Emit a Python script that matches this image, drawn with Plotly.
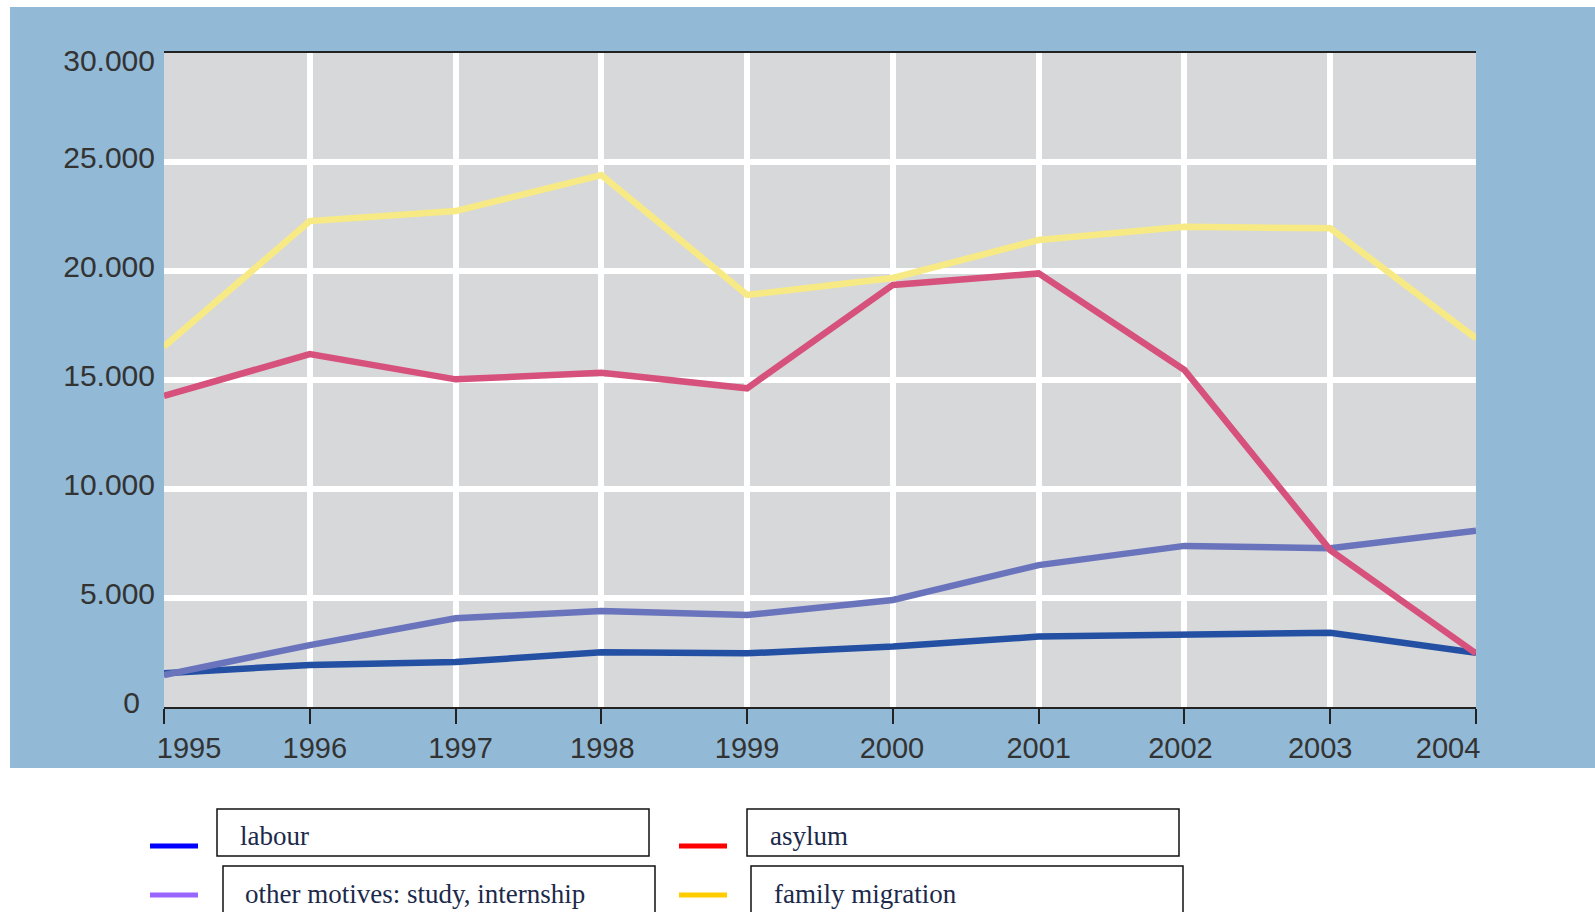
import plotly.graph_objects as go

W, H = 1595, 912

years = [1995, 1996, 1997, 1998, 1999, 2000, 2001, 2002, 2003, 2004]
labour = [1550, 1930, 2060, 2510, 2460, 2770, 3230, 3300, 3410, 2490]
other_motives = [1470, 2840, 4070, 4400, 4220, 4910, 6510, 7390, 7280, 8090]
asylum = [14270, 16190, 15030, 15330, 14620, 19360, 19890, 15460, 7200, 2460]
family = [16530, 22290, 22750, 24400, 18900, 19680, 21420, 22030, 21960, 16910]

y_ticks = [0, 5000, 10000, 15000, 20000, 25000, 30000]
y_tick_text = ["0\u2002", "5.000", "10.000", "15.000", "20.000", "25.000", "30.000"]
x_tick_text = [str(y) for y in years]

legend_names = ["labour", "asylum", "other motives: study, internship", "family migration"]
legend_colors = ["#0000ff", "#ff0000", "#9966ff", "#ffcc00"]

line_colors = {"labour": "#2450a4", "other": "#6a74bd", "asylum": "#d6527c", "family": "#f7ea85"}

# geometry (pixels)
PL, PR, PT, PB = 164, 1476, 53, 707


def px(x):
    return x / W


def py(y):
    return 1 - y / H


fig = go.Figure()
for name, vals, key in [("labour", labour, "labour"),
                        ("other motives", other_motives, "other"),
                        ("asylum", asylum, "asylum"),
                        ("family migration", family, "family")]:
    fig.add_trace(go.Scatter(x=years, y=vals, mode="lines", name=name,
                             line=dict(color=line_colors[key], width=6.5),
                             showlegend=False, hoverinfo="skip"))

# invisible trace to carry label axes
fig.add_trace(go.Scatter(x=[], y=[], xaxis="x2", yaxis="y2", showlegend=False, hoverinfo="skip"))

units_per_px_y = 30000 / (PB - PT)
units_per_px_x = 9 / (PR - PL)
y_label_vals = [v + 5 * units_per_px_y for v in y_ticks[:-1]] + [y_ticks[-1] - 7 * units_per_px_y]
x_shift = [25, 5, 5, 1, 0, -1, 0, -4, -10, -28]
x_label_vals = [yr + s * units_per_px_x for yr, s in zip(years, x_shift)]

x_font = dict(family="Liberation Sans, Arial, sans-serif", size=29, color="#333333")
y_font = dict(family="Liberation Sans, Arial, sans-serif", size=30, color="#333333")

fig.update_layout(
    width=W, height=H,
    margin=dict(l=0, r=0, t=0, b=0, autoexpand=False),
    paper_bgcolor="white",
    plot_bgcolor="rgba(0,0,0,0)",
    xaxis=dict(domain=[px(PL), px(PR)], range=[1995, 2004], tickvals=years,
               showticklabels=False, showgrid=True, gridcolor="white", gridwidth=6,
               zeroline=False, showline=True, linecolor="#222222", linewidth=1.5, mirror=True,
               ticks="outside", ticklen=15, tickwidth=1.5, tickcolor="#222222", fixedrange=True),
    yaxis=dict(domain=[py(PB), py(PT)], range=[0, 30000], tickvals=y_ticks,
               showticklabels=False, showgrid=True, gridcolor="white", gridwidth=6,
               zeroline=False, showline=False, ticks="", fixedrange=True),
    xaxis2=dict(overlaying="x", anchor="y", side="bottom", range=[1995, 2004],
                tickmode="array", tickvals=x_label_vals, ticktext=x_tick_text,
                showgrid=False, zeroline=False, showline=False,
                ticks="outside", ticklen=15, tickcolor="rgba(0,0,0,0)",
                tickfont=x_font, fixedrange=True),
    yaxis2=dict(overlaying="y", anchor="x", side="left", range=[0, 30000],
                tickmode="array", tickvals=y_label_vals, ticktext=y_tick_text,
                showgrid=False, zeroline=False, showline=False,
                ticks="outside", ticklen=2, tickcolor="rgba(0,0,0,0)",
                tickfont=y_font, fixedrange=True),
)

shapes = [
    dict(type="rect", xref="paper", yref="paper", x0=px(10), x1=1, y0=py(768), y1=py(7),
         fillcolor="#92b9d5", line=dict(width=0), layer="below"),
    dict(type="rect", xref="x", yref="y", x0=years[0], x1=years[-1], y0=y_ticks[0], y1=y_ticks[-1],
         fillcolor="#d7d8da", line=dict(width=0), layer="below"),
]

# legend boxes and swatches
legend_layout = [
    # (line x0, x1, line y, box x0, x1, y0, y1, text x, text middle)
    (150, 198, 846, 217, 649, 809, 856, 238, 836),
    (679, 727, 846, 747, 1179, 809, 856, 768, 836),
    (150, 198, 895, 223, 655, 866, 918, 243, 894),
    (679, 727, 895, 751, 1183, 866, 918, 772, 894),
]
annotations = []
for (lx0, lx1, ly, bx0, bx1, by0, by1, tx, tm), name, col in zip(legend_layout, legend_names, legend_colors):
    shapes.append(dict(type="line", xref="paper", yref="paper", x0=px(lx0), x1=px(lx1),
                       y0=py(ly), y1=py(ly), line=dict(color=col, width=5)))
    shapes.append(dict(type="rect", xref="paper", yref="paper", x0=px(bx0), x1=px(bx1),
                       y0=py(by1), y1=py(by0), line=dict(color="#111111", width=1.5),
                       fillcolor="rgba(0,0,0,0)"))
    annotations.append(dict(xref="paper", yref="paper", x=px(tx), y=py(tm),
                            xanchor="left", yanchor="middle", showarrow=False, text=name,
                            font=dict(family="Liberation Serif, Times New Roman, serif",
                                      size=27, color="#1b2a4a")))

fig.update_layout(shapes=shapes, annotations=annotations)

fig.write_html("out.html", config={"displayModeBar": False},
               post_script="document.body.style.margin='0';")
